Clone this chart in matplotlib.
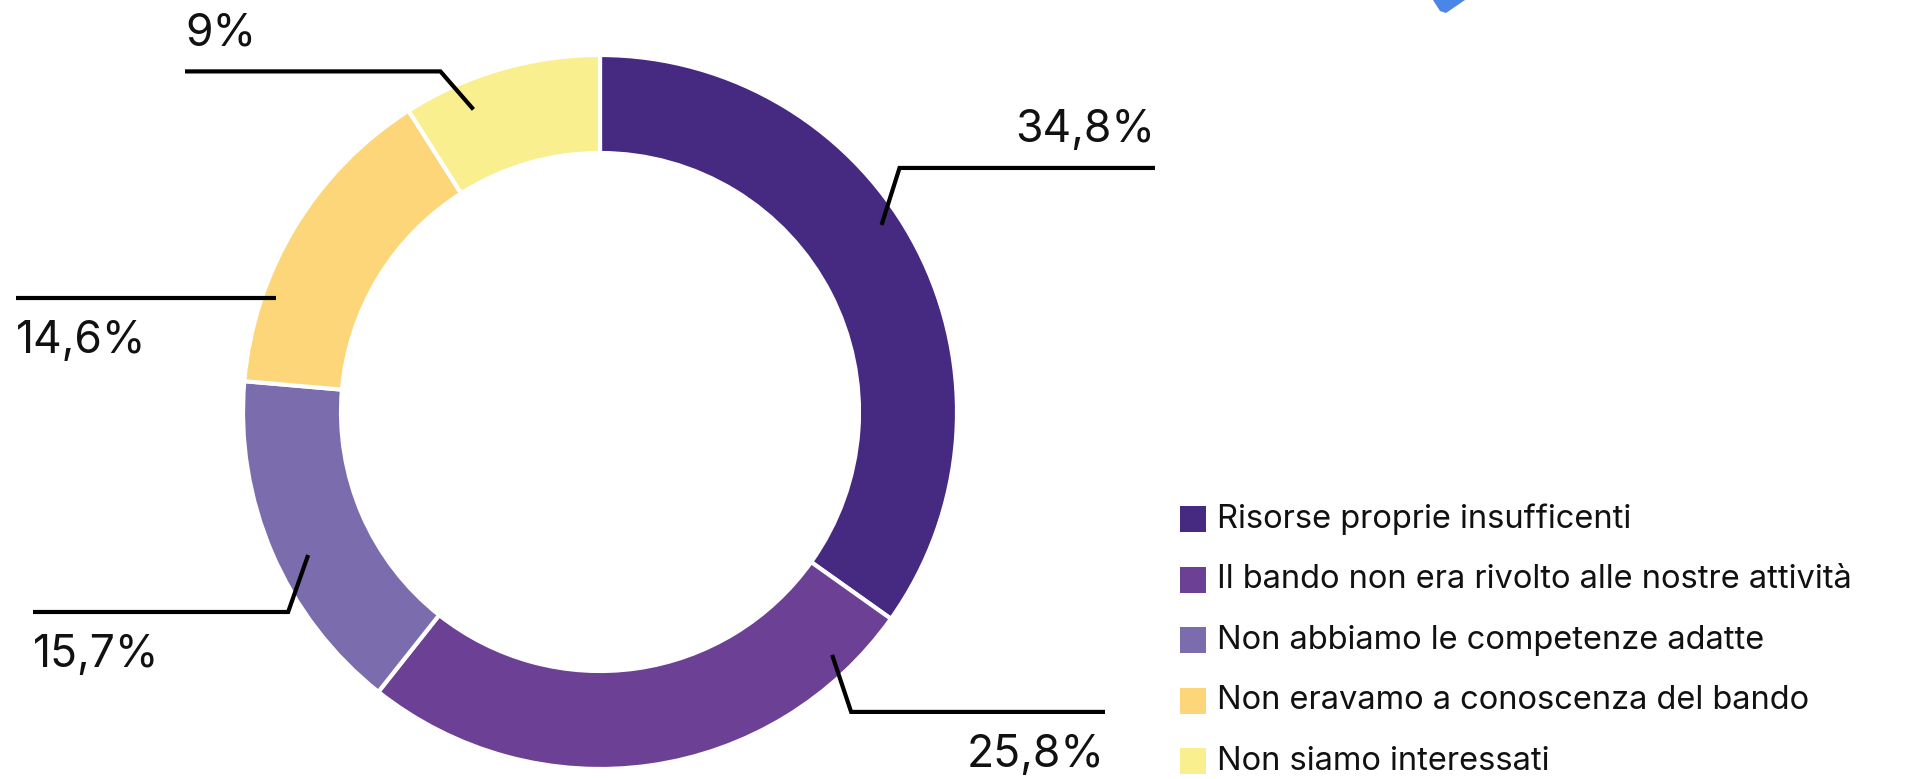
"""
Ciambella: motivi per cui non si è partecipato al bando.
"""
import numpy as np
import matplotlib
matplotlib.use("Agg")
import matplotlib.pyplot as plt
from matplotlib.patches import Rectangle, Polygon

# Dati
categorie = [
    "Risorse proprie insufficenti",
    "Il bando non era rivolto alle nostre attività",
    "Non abbiamo le competenze adatte",
    "Non eravamo a conoscenza del bando",
    "Non siamo interessati",
]
valori = [34.8, 25.8, 15.7, 14.6, 9.0]
etichette = ["34,8%", "25,8%", "15,7%", "14,6%", "9%"]
colori = ["#462a82", "#6c4094", "#7b6cae", "#fcd678", "#f9ef8e"]

# Geometria (pixel, y verso l'alto)
W, H = 1928, 779
cx, cy = 600, H - 412
r_est, spessore = 357, 98

# Linee guida: angolo (gradi in senso orario dall'alto), raggio, gomito (dx, dy), x finale, testo sopra/sotto
guide = [
    (56.4, 338, (18, 57), 1155, "sopra"),
    (136.3, 336, (19, -57), 1105, "sotto"),
    (243.9, 325, (-20, -57), 33, "sotto"),
    (289.4, 343, (0, 0), 16, "sotto"),
    (337.3, 328, (-33, 38), 185, "sopra"),
]

FONT = ["Inter", "Liberation Sans", "DejaVu Sans"]

fig = plt.figure(figsize=(W / 100, H / 100), dpi=100)
ax = fig.add_axes([0, 0, 1, 1])

ax.pie(
    valori,
    colors=colori,
    startangle=90,
    counterclock=False,
    radius=r_est,
    center=(cx, cy),
    wedgeprops=dict(width=spessore, edgecolor="white", linewidth=3),
)
ax.set_xlim(0, W)
ax.set_ylim(0, H)
ax.set_aspect("equal")
ax.axis("off")

for (ang, rr, (dx, dy), x_fine, pos), testo in zip(guide, etichette):
    t = np.deg2rad(ang)
    ax_x = cx + rr * np.sin(t)
    ax_y = cy + rr * np.cos(t)
    gx, gy = ax_x + dx, ax_y + dy
    ax.plot([ax_x, gx, x_fine], [ax_y, gy, gy], color="black", lw=3,
            solid_joinstyle="miter", solid_capstyle="butt")
    ha = "right" if x_fine > cx else "left"
    y_txt = gy + 26 if pos == "sopra" else gy - 55
    ax.text(x_fine, y_txt, testo, ha=ha, va="baseline", fontsize=32,
            family=FONT, color="#111111")

# Legenda
leg_x, leg_y0, leg_passo, lato = 1180, H - 519, 60.5, 26
for i, (cat, col) in enumerate(zip(categorie, colori)):
    y = leg_y0 - i * leg_passo
    ax.add_patch(Rectangle((leg_x, y - lato / 2), lato, lato, facecolor=col, edgecolor="none"))
    ax.text(leg_x + 37, y, cat, ha="left", va="center", fontsize=23.5,
            family=FONT, color="#111111")

# Frammento blu in alto
ax.add_patch(Polygon([(1433, H), (1440, H - 11), (1446, H - 13), (1465, H)],
                     closed=True, facecolor="#4a86e8", edgecolor="none"))

fig.savefig("out.png", dpi=100)
